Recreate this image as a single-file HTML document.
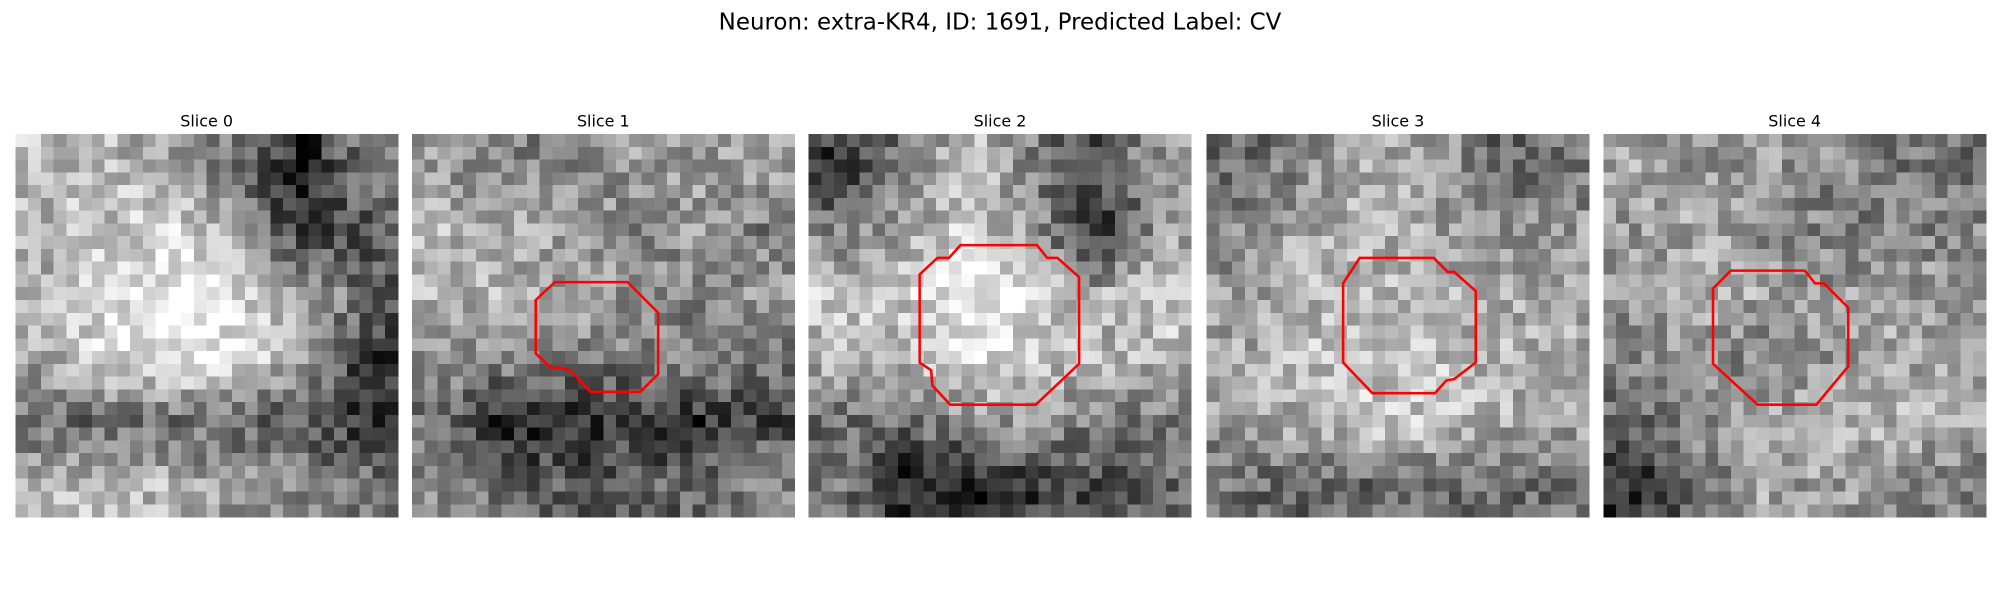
<!DOCTYPE html>
<html><head><meta charset="utf-8"><style>
html,body{margin:0;padding:0;background:#fff;}
svg{display:block;}
text{font-family:"DejaVu Sans","Liberation Sans",sans-serif;fill:#000;}
</style></head><body>
<svg id="fig" width="2000" height="600" viewBox="0 0 1568 470" preserveAspectRatio="none" xmlns="http://www.w3.org/2000/svg">
<text x="784" y="23" text-anchor="middle" font-size="18">Neuron: extra-KR4, ID: 1691, Predicted Label: CV</text>
</svg>
<script>
const sliceTitles=["Slice 0","Slice 1","Slice 2","Slice 3","Slice 4"];
const panelX=[12,323,634,946,1257];
const lowres=[
[[180,170,160,120,60,130],[170,185,200,150,70,100],[170,210,215,200,170,110],[160,200,210,200,160,80],[120,110,120,110,100,70],[170,180,170,150,140,130]],
[[150,130,140,150,150,160],[170,160,150,140,150,130],[170,170,160,140,130,150],[150,140,130,130,140,130],[120,60,70,80,70,90],[140,110,100,110,110,140]],
[[80,120,180,130,90,150],[130,160,190,150,60,150],[180,190,220,200,160,190],[170,170,200,190,170,170],[120,120,140,150,130,130],[120,60,60,80,90,110]],
[[110,140,160,160,110,120],[140,160,170,160,140,150],[150,170,170,170,160,160],[160,180,180,180,170,170],[150,170,190,180,170,160],[120,110,110,120,120,120]],
[[160,150,150,140,130,120],[150,160,140,130,130,140],[150,160,160,150,160,150],[140,150,130,150,160,160],[110,140,160,170,170,160],[70,120,160,150,150,130]]
];
const contours=[
null,
[[11.2,11.6],[16.9,11.6],[19.3,14.0],[19.3,18.8],[17.9,20.2],[14.0,20.2],[12.4,18.5],[11.6,18.3],[10.9,18.3],[9.7,17.2],[9.7,13.0]],
[[11.9,8.7],[17.9,8.7],[18.7,9.7],[19.5,9.7],[21.2,11.2],[21.2,18.0],[17.8,21.2],[11.1,21.2],[9.7,19.7],[9.6,18.5],[8.7,17.9],[8.7,11.0],[10.1,9.7],[11.0,9.7]],
[[12.0,9.7],[17.8,9.7],[18.9,10.8],[19.4,10.8],[21.1,12.3],[21.1,17.9],[19.4,19.2],[18.8,19.3],[17.9,20.3],[13.0,20.3],[10.7,17.9],[10.7,11.7]],
[[10.0,10.7],[15.8,10.7],[16.6,11.7],[17.3,11.7],[19.2,13.6],[19.2,18.2],[16.7,21.2],[12.1,21.2],[8.6,18.0],[8.6,12.1]]
];
const NS="http://www.w3.org/2000/svg";
const svg=document.getElementById('fig');
const N=30, CELL=10, PY=105;
function hash(a,b,c){let h=(a*374761393+b*668265263+c*2147483647)|0;h=(h^(h>>>13))*1274126177|0;h=h^(h>>>16);return ((h>>>0)%1000)/1000;}
function sample(m,r,c){
  const fy=Math.min(Math.max((r+0.5)/N*6-0.5,0),5), fx=Math.min(Math.max((c+0.5)/N*6-0.5,0),5);
  const y0=Math.floor(fy),x0=Math.floor(fx),y1=Math.min(y0+1,5),x1=Math.min(x0+1,5);
  const ty=fy-y0,tx=fx-x0;
  return m[y0][x0]*(1-ty)*(1-tx)+m[y0][x1]*(1-ty)*tx+m[y1][x0]*ty*(1-tx)+m[y1][x1]*ty*tx;
}
sliceTitles.forEach((t,p)=>{
  const g=document.createElementNS(NS,'g');
  
  
  svg.appendChild(g);
  const tt=document.createElementNS(NS,'text');
  
  
  tt.setAttribute('x',panelX[p]+150);tt.setAttribute('y',99);
  tt.setAttribute('text-anchor','middle');tt.setAttribute('font-size','12.5');
  tt.textContent=t;g.appendChild(tt);
  const img=document.createElementNS(NS,'g');
  
  
  img.setAttribute('shape-rendering','crispEdges');
  g.appendChild(img);
  for(let r=0;r<N;r++)for(let c=0;c<N;c++){
    let v=sample(lowres[p],r,c);
    v=140+(v-140)*1.35+(hash(p+1,r,c)-0.5)*95;
    v=Math.max(0,Math.min(255,Math.round(v)));
    const rc=document.createElementNS(NS,'rect');
    rc.setAttribute('x',panelX[p]+c*CELL);rc.setAttribute('y',PY+r*CELL);
    rc.setAttribute('width',CELL+0.3);rc.setAttribute('height',CELL+0.3);
    rc.setAttribute('fill','rgb('+v+','+v+','+v+')');
    img.appendChild(rc);
  }
  if(contours[p]){
    const pl=document.createElementNS(NS,'polygon');
    
    
    pl.setAttribute('points',contours[p].map(q=>(panelX[p]+q[0]*CELL)+','+(PY+q[1]*CELL)).join(' '));
    pl.setAttribute('fill','none');pl.setAttribute('stroke','#ff0000');pl.setAttribute('stroke-width','2');
    g.appendChild(pl);
  }
});
</script>
</body></html>
